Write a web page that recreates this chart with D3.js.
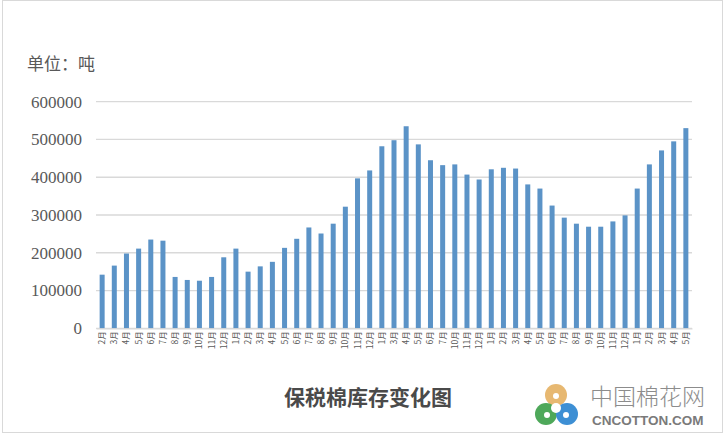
<!DOCTYPE html>
<html><head><meta charset="utf-8">
<script src="https://cdn.jsdelivr.net/npm/d3@7"></script>
<style>html,body{margin:0;padding:0;background:#fff;}svg{display:block;}</style>
</head><body>
<svg id="c" width="726" height="436"></svg>
<script>
const months = [2,3,4,5,6,7,8,9,10,11,12, 1,2,3,4,5,6,7,8,9,10,11,12, 1,3,4,5,6,7,10,11,12, 1,2,3,4,5,6,7,8,9,10,11,12, 1,2,3,4,5];
const values = [142000,166000,198000,211000,235000,232000,136000,128000,126000,136000,188000,
  211000,150000,164000,176000,213000,237000,267000,251000,277000,322000,397000,418000,
  482000,498000,535000,487000,445000,432000,434000,407000,394000,
  421000,425000,423000,381000,370000,325000,293000,277000,269000,269000,283000,299000,
  370000,434000,471000,495000,530000];
const yTicks = [0,100000,200000,300000,400000,500000,600000];
const unitLabel = "单位：吨";
const title = "保税棉库存变化图";

const svg = d3.select("#c");
svg.append("rect").attr("x",2.5).attr("y",0.5).attr("width",720).attr("height",432)
  .attr("fill","none").attr("stroke","#d9d9d9");

const idx = values.map((d,i)=>i);
const x = d3.scaleBand().domain(idx).range([96,692]).paddingInner(0.59).paddingOuter(0.3);
const y = d3.scaleLinear().domain([0,600000]).range([328.3,101.7]);

svg.append("g").selectAll("line").data(yTicks).join("line")
  .attr("x1",96).attr("x2",692).attr("y1",d=>y(d)).attr("y2",d=>y(d))
  .attr("stroke","#d9d9d9").attr("stroke-width",1.3);

const ya = svg.append("g").attr("transform","translate(82,0)")
  .call(d3.axisLeft(y).tickValues(yTicks).tickSize(0).tickPadding(0).tickFormat(d3.format("d")));
ya.select(".domain").remove();
ya.selectAll("text").attr("font-family","'Liberation Serif',serif").attr("font-size",17).attr("fill","#595959");

svg.append("g").selectAll("rect").data(values).join("rect")
  .attr("x",(d,i)=>x(i)+(x.bandwidth()-5)/2).attr("width",5)
  .attr("y",d=>y(d)).attr("height",d=>y(0)-y(d))
  .attr("fill","#5b93c7");

const xa = svg.append("g").attr("transform","translate(0,328.3)")
  .call(d3.axisBottom(x).tickSize(0).tickFormat(i=>months[i]+"月"));
xa.select(".domain").attr("stroke","#d9d9d9").attr("stroke-width",1.3);
xa.selectAll("text").attr("transform","rotate(-90)").attr("text-anchor","end")
  .attr("x",-3).attr("y",0).attr("dy","0.35em")
  .attr("font-family","'Noto Sans CJK SC',sans-serif").attr("font-size",8.5).attr("fill","#595959");

svg.append("text").attr("x",27).attr("y",70).text(unitLabel)
  .attr("font-family","'Noto Sans CJK SC',sans-serif").attr("font-size",17).attr("fill","#595959");

svg.append("text").attr("x",368).attr("y",405).attr("text-anchor","middle").text(title)
  .attr("font-family","'Noto Sans CJK SC',sans-serif").attr("font-weight",700).attr("font-size",21).attr("fill","#4a4a4a");

const lg = svg.append("g");
lg.append("circle").attr("cx",556).attr("cy",395).attr("r",11).attr("fill","#e7b871");
lg.append("circle").attr("cx",546).attr("cy",414).attr("r",11).attr("fill","#4ea85a");
lg.append("circle").attr("cx",567).attr("cy",414).attr("r",11).attr("fill","#3d8fd4");
lg.append("circle").attr("cx",556).attr("cy",408).attr("r",5).attr("fill","#fff");
lg.append("circle").attr("cx",556).attr("cy",396).attr("r",3).attr("fill","#fff");
lg.append("circle").attr("cx",547).attr("cy",415).attr("r",3).attr("fill","#fff");
lg.append("circle").attr("cx",566).attr("cy",415).attr("r",3).attr("fill","#fff");
svg.append("text").attr("x",590).attr("y",405).text("中国棉花网")
  .attr("font-family","'Noto Sans CJK SC',sans-serif").attr("font-weight",300).attr("font-size",23).attr("fill","#8c8c8c");
svg.append("text").attr("x",592).attr("y",425).text("CNCOTTON.COM")
  .attr("font-family","'Liberation Sans',Arial,sans-serif").attr("font-weight",700).attr("font-size",13.5).attr("fill","#7a7a7a");
</script>
</body></html>
